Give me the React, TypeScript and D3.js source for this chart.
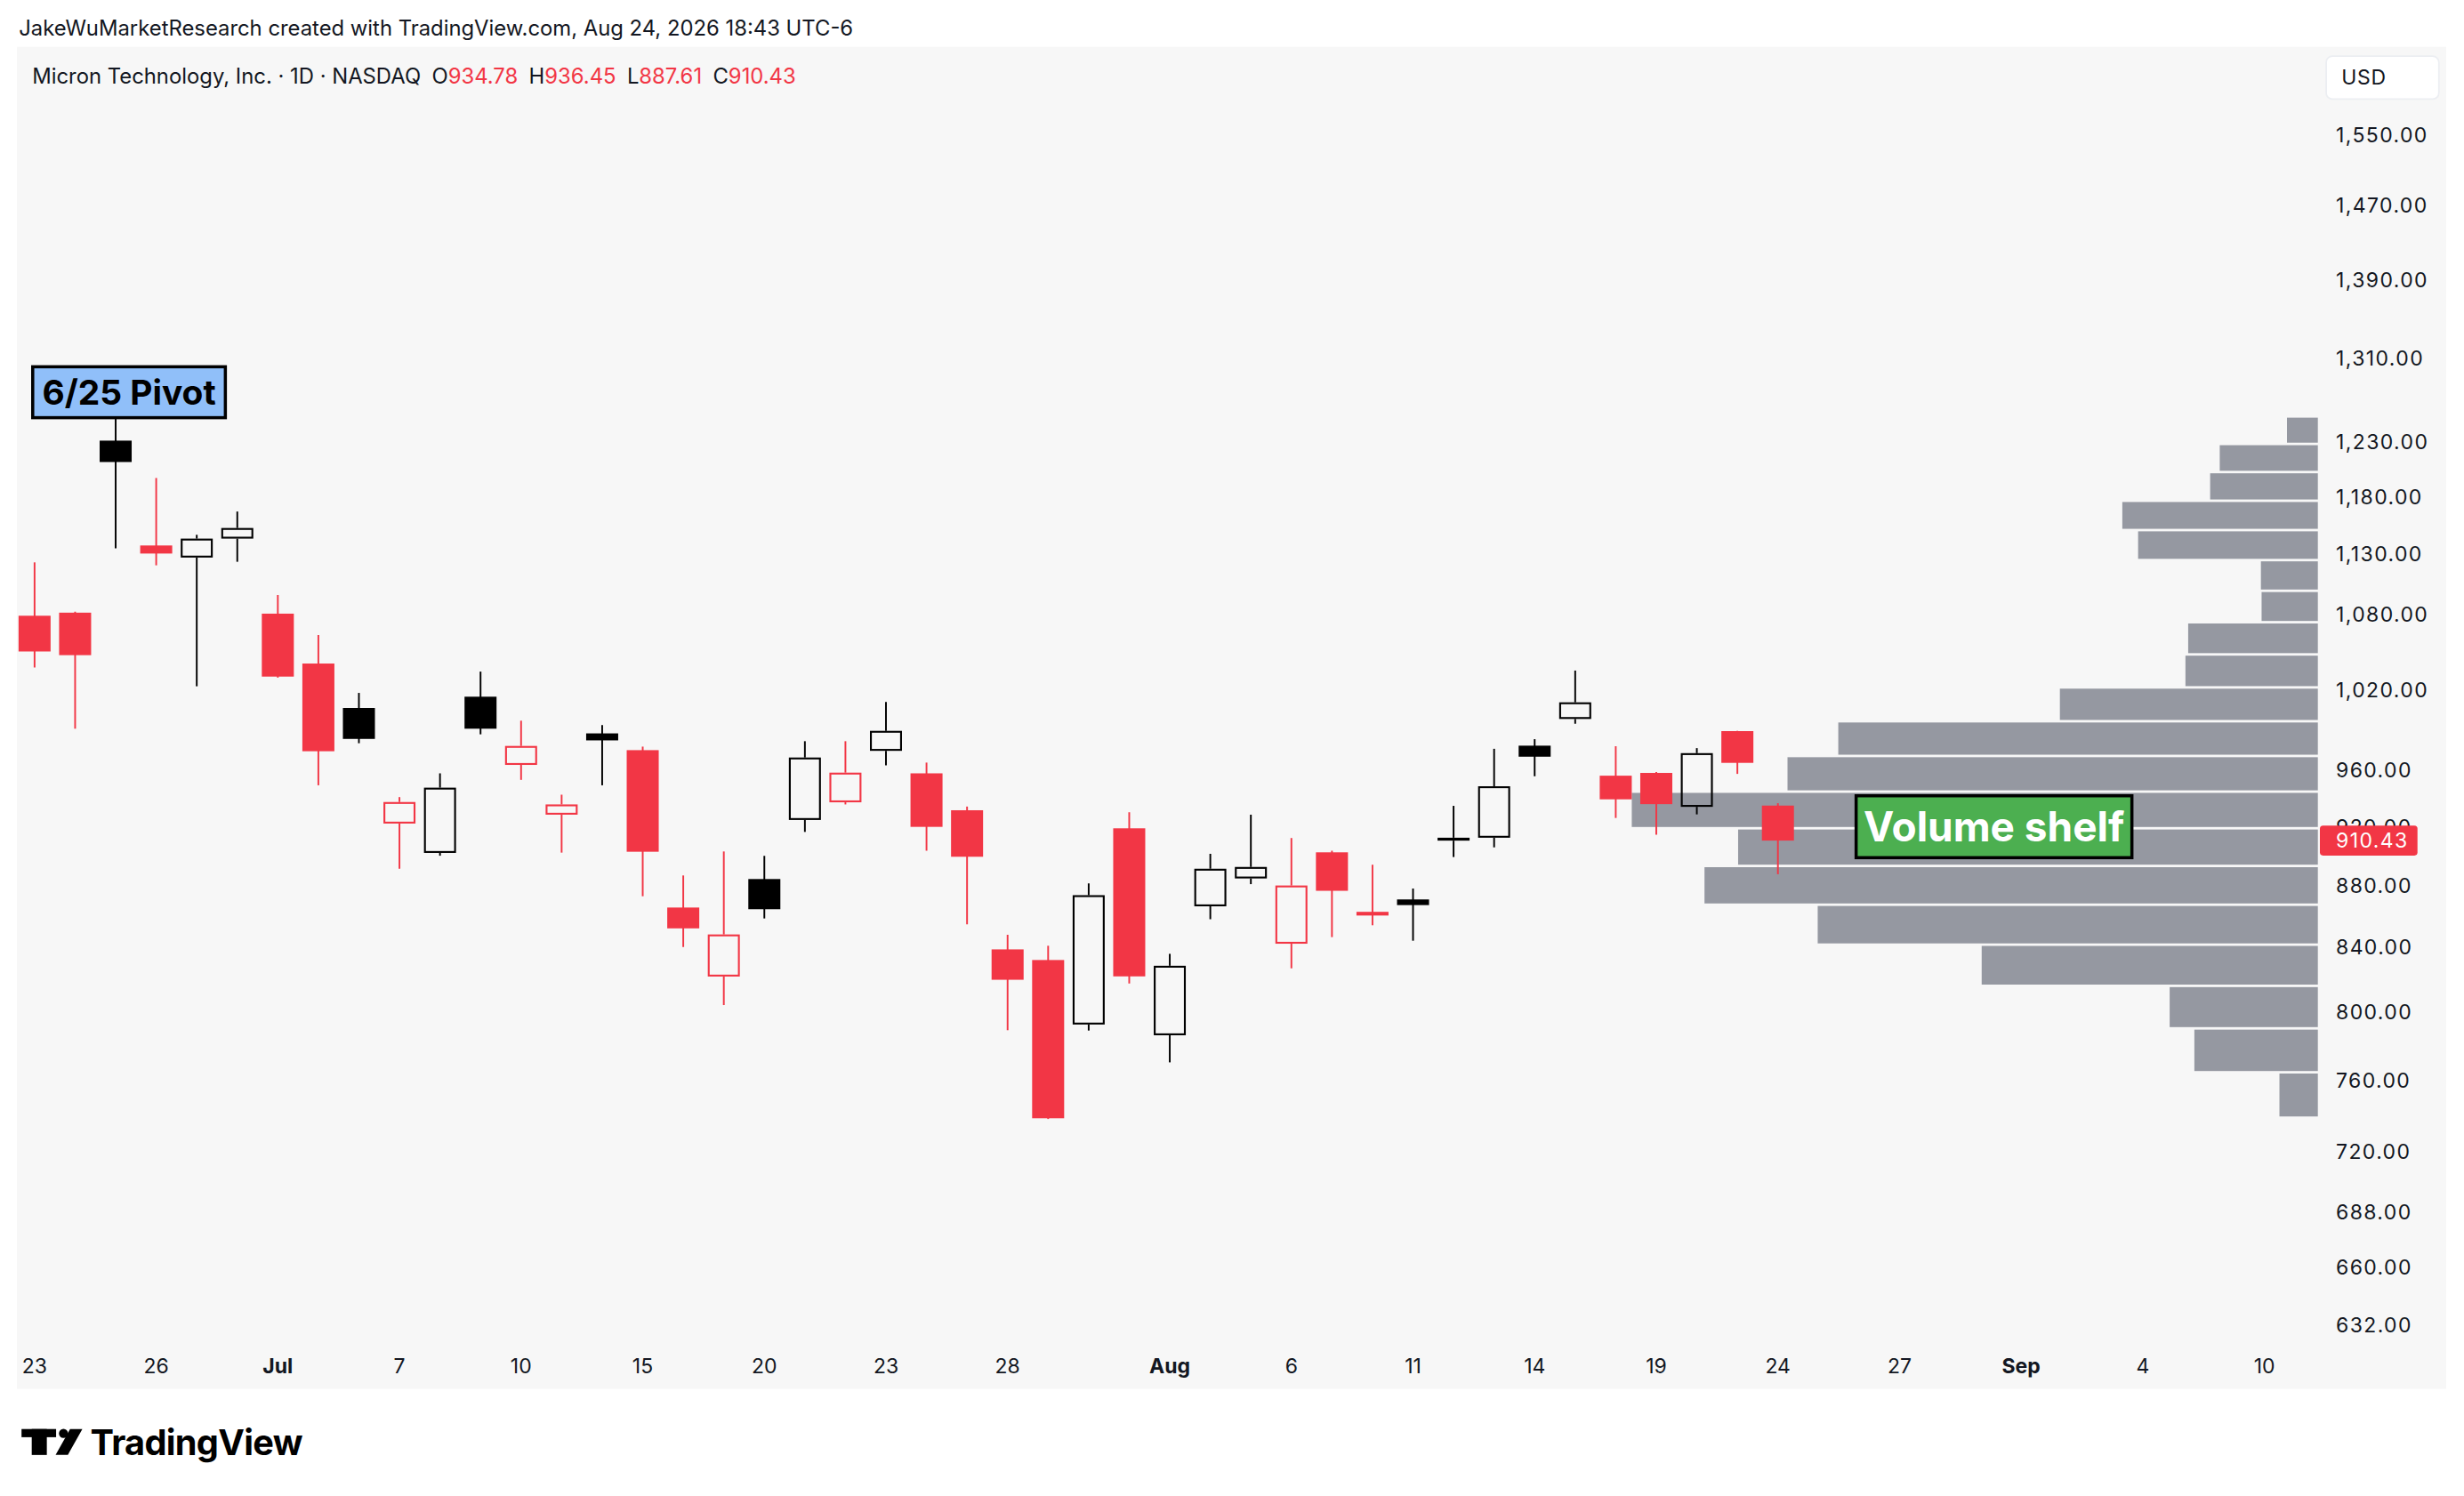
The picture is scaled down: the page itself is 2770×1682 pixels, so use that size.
import * as d3 from 'd3';

// daily sessions shown on the chart (MU, 1D)
const dates = [
  '2026-06-23', '2026-06-24', '2026-06-25', '2026-06-26', '2026-06-29', '2026-06-30',
  '2026-07-01', '2026-07-02', '2026-07-06', '2026-07-07', '2026-07-08', '2026-07-09',
  '2026-07-10', '2026-07-13', '2026-07-14', '2026-07-15', '2026-07-16', '2026-07-17',
  '2026-07-20', '2026-07-21', '2026-07-22', '2026-07-23', '2026-07-24', '2026-07-27',
  '2026-07-28', '2026-07-29', '2026-07-30', '2026-07-31', '2026-08-03', '2026-08-04',
  '2026-08-05', '2026-08-06', '2026-08-07', '2026-08-10', '2026-08-11', '2026-08-12',
  '2026-08-13', '2026-08-14', '2026-08-17', '2026-08-18', '2026-08-19', '2026-08-20',
  '2026-08-21', '2026-08-24',
];
const opens = [
  1078.7, 1081.2, 1231.0, 1137.4, 1127.1, 1143.3, 1080.4, 1040.5, 1006.2, 922.2, 902.0,
  1014.8, 963.9, 928.4, 987.1, 974.7, 865.6, 821.7, 884.4, 924.7, 937.1, 974.2, 957.8,
  931.5, 838.7, 832.0, 792.5, 918.9, 786.1, 866.4, 884.8, 842.3, 902.4, 862.8, 870.9,
  910.4, 912.4, 978.0, 997.9, 956.1, 958.1, 933.9, 988.8, 934.78,
];
const highs = [
  1123.0, 1082.0, 1252.5, 1196.8, 1146.6, 1166.9, 1095.7, 1063.1, 1017.7, 940.8, 957.8,
  1034.2, 996.6, 942.5, 993.3, 977.3, 886.8, 903.0, 900.0, 981.3, 981.3, 1010.7, 965.6,
  934.1, 848.0, 841.0, 881.5, 930.1, 835.9, 901.4, 928.4, 912.2, 903.5, 894.0, 878.1,
  934.6, 975.7, 982.8, 1035.0, 977.6, 958.8, 976.2, 989.0, 936.45,
];
const lows = [
  1037.4, 990.6, 1135.0, 1120.5, 1022.8, 1123.5, 1029.5, 949.2, 979.8, 891.3, 900.1,
  986.4, 953.1, 902.2, 949.2, 873.0, 840.2, 804.2, 858.5, 916.4, 935.6, 963.6, 903.5,
  854.7, 789.1, 738.0, 788.9, 817.4, 770.2, 858.0, 881.0, 826.8, 846.5, 854.1, 844.2,
  899.2, 905.8, 955.7, 994.3, 926.1, 914.5, 928.6, 957.4, 887.61,
];
const closes = [
  1050.0, 1047.1, 1211.3, 1130.5, 1143.3, 1152.5, 1030.3, 973.9, 983.0, 937.3, 947.5,
  990.6, 977.8, 935.6, 981.9, 902.8, 852.1, 848.2, 864.5, 969.3, 958.3, 989.0, 919.9,
  899.4, 819.7, 738.4, 873.7, 821.8, 828.4, 891.3, 892.5, 880.1, 876.6, 860.4, 867.2,
  912.4, 948.5, 969.9, 1010.5, 939.2, 935.8, 972.5, 965.4, 910.43,
];

// empty sessions to the right of the last bar
const upcoming = [
  '2026-08-25', '2026-08-26', '2026-08-27', '2026-08-28', '2026-08-31', '2026-09-01',
  '2026-09-02', '2026-09-03', '2026-09-04', '2026-09-08', '2026-09-09', '2026-09-10',
];
const sessions = [...dates, ...upcoming];

const dateTicks = [
  { date: '2026-06-23', label: '23' }, { date: '2026-06-26', label: '26' },
  { date: '2026-07-01', label: 'Jul' }, { date: '2026-07-07', label: '7' },
  { date: '2026-07-10', label: '10' }, { date: '2026-07-15', label: '15' },
  { date: '2026-07-20', label: '20' }, { date: '2026-07-23', label: '23' },
  { date: '2026-07-28', label: '28' }, { date: '2026-08-03', label: 'Aug' },
  { date: '2026-08-06', label: '6' }, { date: '2026-08-11', label: '11' },
  { date: '2026-08-14', label: '14' }, { date: '2026-08-19', label: '19' },
  { date: '2026-08-24', label: '24' }, { date: '2026-08-27', label: '27' },
  { date: '2026-09-01', label: 'Sep' }, { date: '2026-09-04', label: '4' },
  { date: '2026-09-10', label: '10' },
];
const months = ['Jul', 'Aug', 'Sep'];

const priceTicks = [
  1550, 1470, 1390, 1310, 1230, 1180, 1130, 1080, 1020, 960, 920, 880, 840, 800, 760, 720,
  688, 660, 632,
];

// visible range volume profile, 20 rows, top row first (relative volume)
const profileVolumes = [
  4.5, 14.3, 15.7, 28.5, 26.2, 8.3, 8.2, 18.9, 19.3, 37.6, 69.9, 77.3, 100, 84.5, 89.4, 72.9,
  49.0, 21.6, 18.0, 5.6,
];

const notes = [
  { text: '6/25 Pivot', at: 2.33, price: 1252.5, w: 122.6, h: 32.4, fill: '#90bff9', color: '#000000', size: 22, align: 'bottom' },
  { text: 'Volume shelf', at: 48.33, price: 920, w: 175.5, h: 39.4, fill: '#4caf50', color: '#ffffff', size: 26, align: 'middle' },
];

const W = 1568;
const H = (1682 * W) / 2770;
const FONT = 'Inter, "Liberation Sans", Arial, sans-serif';
const RED = '#f23645';
const INK = '#131722';
const BG = '#f7f7f7';
const plotRight = 1475;

const x = d3.scaleLinear().domain([0, sessions.length - 1]).range([22, 1441]);
const y = d3.scaleLog().domain([1550, 632]).range([86, 843]);
const vw = d3.scaleLinear().domain([0, 100]).range([0, 436.6]);
const fmt = d3.format(',.2f');

function TVLogo() {
  return (
    <g fill="#000000">
      <rect x={13.7} y={909.5} width={22} height={5.2} />
      <rect x={20.2} y={909.5} width={9.6} height={16.5} />
      <circle cx={40.4} cy={912.3} r={2.9} />
      <path d="M44.6,909.5 L52.4,909.5 L43.2,926 L35.4,926 Z" />
      <text x={57.5} y={926} fontFamily={FONT} fontWeight={700} fontSize={22.5} letterSpacing={-0.4}>
        TradingView
      </text>
    </g>
  );
}

export default function App() {
  const step = x(1) - x(0);
  const bw = step * 0.79;
  const last = closes.length - 1;

  const hi = d3.max(highs) as number;
  const lo = d3.min(lows) as number;
  const rowStep = (hi - lo) / profileVolumes.length;

  return (
    <svg
      width={2770}
      height={1682}
      viewBox={`0 0 ${W} ${H}`}
      style={{ position: 'absolute', left: 0, top: 0, background: '#ffffff' }}
    >
      <text x={12} y={22.8} fontFamily={FONT} fontSize={13.5} fill={INK}>
        JakeWuMarketResearch created with TradingView.com, Aug 24, 2026 18:43 UTC-6
      </text>

      <rect x={10.8} y={29.8} width={1545.9} height={854.2} fill={BG} />

      {/* volume profile */}
      {profileVolumes.map((v, r) => {
        const top = y(hi - r * rowStep);
        const bottom = y(hi - (r + 1) * rowStep);
        return (
          <rect
            key={`vp${r}`}
            x={plotRight - vw(v)}
            y={top}
            width={vw(v)}
            height={Math.max(bottom - top - 1.6, 0.5)}
            fill="#9598a1"
          />
        );
      })}

      {/* candles */}
      {dates.map((d, i) => {
        const o = opens[i];
        const c = closes[i];
        const prev = i === 0 ? o : closes[i - 1];
        const color = c >= prev ? '#000000' : RED;
        const hollow = c > o;
        const cx = x(i);
        const top = y(Math.max(o, c));
        const bot = y(Math.min(o, c));
        const yh = y(highs[i]);
        const yl = y(lows[i]);
        const sw = 1.2;
        if (hollow) {
          return (
            <g key={d}>
              <line x1={cx} x2={cx} y1={yh} y2={top} stroke={color} strokeWidth={1.1} />
              <line x1={cx} x2={cx} y1={bot} y2={yl} stroke={color} strokeWidth={1.1} />
              <rect
                x={cx - bw / 2 + sw / 2}
                y={top + sw / 2}
                width={bw - sw}
                height={Math.max(bot - top - sw, 0.01)}
                fill="none"
                stroke={color}
                strokeWidth={sw}
              />
            </g>
          );
        }
        return (
          <g key={d}>
            <line x1={cx} x2={cx} y1={yh} y2={yl} stroke={color} strokeWidth={1.1} />
            <rect x={cx - bw / 2} y={top} width={bw} height={Math.max(bot - top, 1)} fill={color} />
          </g>
        );
      })}

      {/* text notes */}
      {notes.map((n) => {
        const cx = x(n.at);
        const cy = n.align === 'bottom' ? y(n.price) - n.h / 2 : y(n.price);
        return (
          <g key={n.text}>
            <rect
              x={cx - n.w / 2}
              y={cy - n.h / 2}
              width={n.w}
              height={n.h}
              fill={n.fill}
              stroke="#000000"
              strokeWidth={2}
            />
            <text
              x={cx}
              y={cy + n.size * 0.36}
              textAnchor="middle"
              fontFamily={FONT}
              fontWeight={700}
              fontSize={n.size}
              fill={n.color}
            >
              {n.text}
            </text>
          </g>
        );
      })}

      {/* legend line */}
      <text x={20.5} y={53} fontFamily={FONT} fontSize={13.5} fill={INK}>
        <tspan>Micron Technology, Inc. · 1D · NASDAQ</tspan>
        <tspan dx={7}>O</tspan>
        <tspan fill={RED}>{opens[last].toFixed(2)}</tspan>
        <tspan dx={7}>H</tspan>
        <tspan fill={RED}>{highs[last].toFixed(2)}</tspan>
        <tspan dx={7}>L</tspan>
        <tspan fill={RED}>{lows[last].toFixed(2)}</tspan>
        <tspan dx={7}>C</tspan>
        <tspan fill={RED}>{closes[last].toFixed(2)}</tspan>
      </text>

      {/* price scale */}
      <rect x={1480.3} y={35.7} width={71.7} height={27.4} rx={4} fill="#ffffff" stroke="#eceef2" />
      <text x={1490} y={54} fontFamily={FONT} fontSize={13} fill={INK} letterSpacing={0.4}>
        USD
      </text>
      {priceTicks.map((p) => (
        <text key={p} x={1486.5} y={y(p) + 4.7} fontFamily={FONT} fontSize={13} fill={INK} letterSpacing={0.8}>
          {fmt(p)}
        </text>
      ))}
      <rect x={1476.3} y={y(closes[last]) - 9.5} width={62.1} height={19} rx={2} fill={RED} />
      <text x={1486.5} y={y(closes[last]) + 4.7} fontFamily={FONT} fontSize={13} fill="#ffffff" letterSpacing={0.8}>
        {closes[last].toFixed(2)}
      </text>

      {/* time scale */}
      {dateTicks.map((t) => (
        <text
          key={t.date}
          x={x(sessions.indexOf(t.date))}
          y={874.2}
          textAnchor="middle"
          fontFamily={FONT}
          fontSize={13}
          fontWeight={months.includes(t.label) ? 700 : 400}
          fill={INK}
        >
          {t.label}
        </text>
      ))}

      <TVLogo />
    </svg>
  );
}
